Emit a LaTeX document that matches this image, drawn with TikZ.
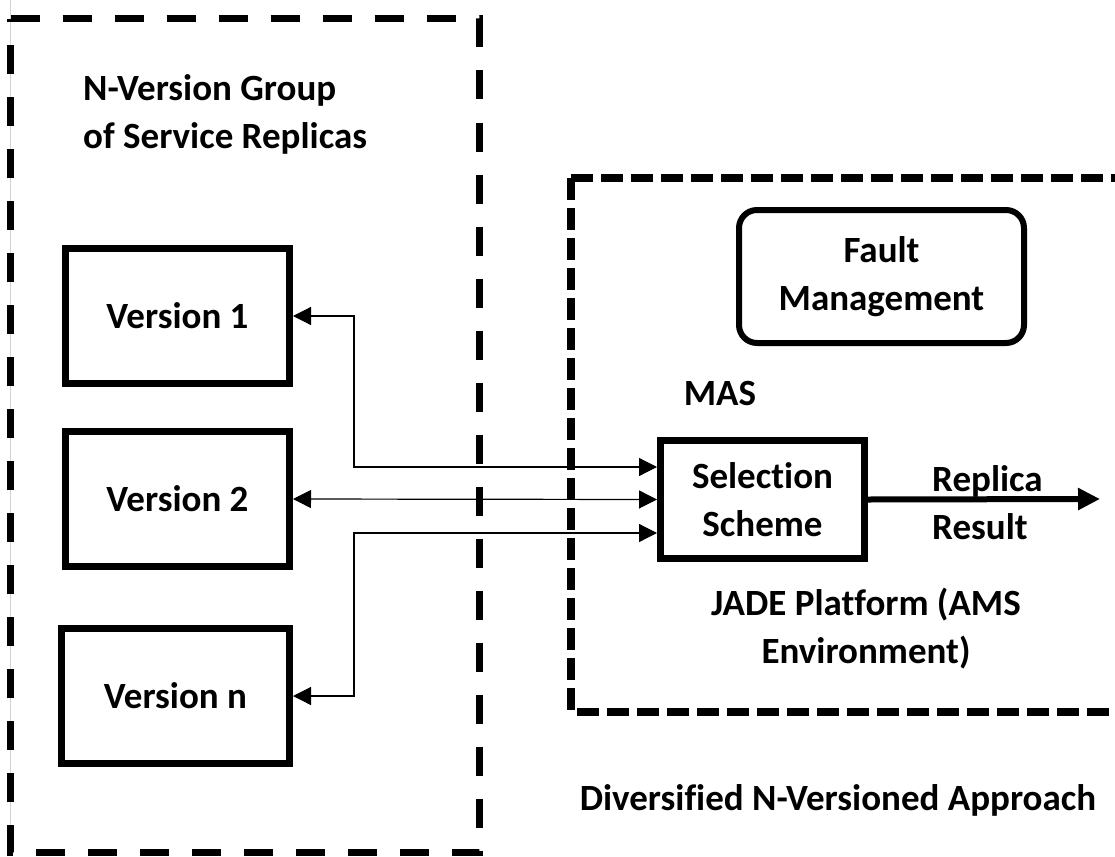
\documentclass[tikz,border=0pt]{standalone}
\usepackage{fontspec}
\setmainfont[Ligatures=NoCommon]{Carlito}
\usetikzlibrary{arrows.meta}
\begin{document}
\begin{tikzpicture}[x=1pt,y=-1pt,
  lbl/.style={font=\bfseries\fontsize{37}{48}\selectfont, inner sep=0pt},
  vbox/.style={draw, line width=7pt, minimum width=224pt, minimum height=135pt, lbl},
  selbox/.style={draw, line width=7pt, minimum width=204pt, minimum height=118pt, lbl, align=center},
  faultbox/.style={draw, line width=6pt, rounded corners=18pt, minimum width=285pt, minimum height=133pt, lbl, align=center},
  lbox/.style={line width=7pt, dash pattern=on 29pt off 23pt},
  rbox/.style={line width=8pt, dash pattern=on 22pt off 8pt},
  conn/.style={line width=1.2pt, {Triangle[length=18pt,width=18pt]}-{Triangle[length=18pt,width=18pt]}},
  outarrow/.style={line width=6pt, -{Triangle[length=22pt,width=21pt]}},
]
\useasboundingbox (0,0) rectangle (1115,856);
\clip (0,0) rectangle (1115,856);
\fill[white] (0,0) rectangle (1115,856);
% faint edge line
\draw[gray!35, line width=0.8pt] (10.5,0) -- (10.5,856);
% group boxes
\draw[lbox] (10.5,19) -- (479,19) -- (479,852) -- (10.5,852) -- cycle;
\draw[rbox] (571,178) -- (1140,178);
\draw[rbox] (571,178) -- (571,712) -- (1140,712);
% texts
\node[lbl, anchor=west, align=left] (grp) at (83,114) {N-Version Group\\of Service Replicas};
\node[vbox] (v1) at (177.5,316) {Version 1};
\node[vbox] (v2) at (177.5,499) {Version 2};
\node[vbox, minimum width=228pt] (vn) at (175.5,696) {Version n};
\node[faultbox] (fm) at (881.5,276.5) {Fault\\Management};
\node[lbl] (mas) at (720,393) {MAS};
\node[selbox] (sel) at (762.5,499.5) {Selection\\Scheme};
\node[lbl, anchor=west, align=left] (res) at (932,503) {Replica\\Result};
\node[lbl, align=center] (jade) at (866,628.5) {JADE Platform (AMS\\Environment)};
\node[lbl] (dna) at (838,800) {Diversified N-Versioned Approach};
% connectors
\coordinate (in1) at ([yshift=32.5pt]sel.west);
\coordinate (in2) at (sel.west);
\coordinate (in3) at ([yshift=-33.5pt]sel.west);
\coordinate (out) at (1100,499);
\draw[conn] (v1.east) -- ++(61,0) |- (in1);
\draw[conn] (v2.east) -- (in2);
\draw[conn] (vn.east) -- ++(61,0) |- (in3);
\draw[outarrow] (sel.east) -- (out);
\end{tikzpicture}
\end{document}
